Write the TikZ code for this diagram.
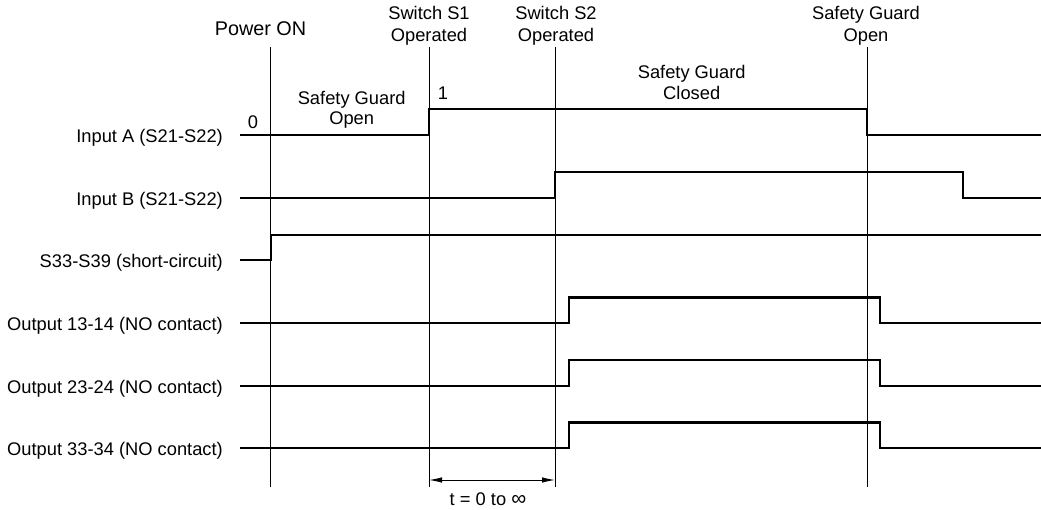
\documentclass[tikz,border=0pt]{standalone}
\usepackage{fontspec}
\setmainfont{Liberation Sans}
\usetikzlibrary{arrows.meta}
\begin{document}
\begin{tikzpicture}[x=1pt,y=-1pt,
  lbl/.style={inner sep=0pt,anchor=base,font=\fontsize{18.3}{21}\selectfont},
  rowlbl/.style={inner sep=0pt,anchor=base east,font=\fontsize{18.3}{21}\selectfont},
  sig/.style={line width=2.4pt,line join=miter},
  marker/.style={line width=1pt},
  dim/.style={line width=1pt,{Latex[length=13pt,width=5.5pt]}-{Latex[length=13pt,width=5.5pt]}}]
\useasboundingbox (0,0) rectangle (1041,510);
% header labels
\node[lbl,font=\fontsize{19.8}{22}\selectfont] (pon) at (260.5,35.3) {Power ON};
\node[lbl] (s1a) at (429,20) {Switch S1};
\node[lbl] (s1b) at (429,42) {Operated};
\node[lbl] (s2a) at (556,20) {Switch S2};
\node[lbl] (s2b) at (556,42) {Operated};
\node[lbl] (sgoa) at (866,20) {Safety Guard};
\node[lbl] (sgob) at (866,42) {Open};
\node[lbl] (sgca) at (691.7,79) {Safety Guard};
\node[lbl] (sgcb) at (691.7,99.5) {Closed};
\node[lbl] (sgla) at (351.7,104.3) {Safety Guard};
\node[lbl] (sglb) at (351.7,125) {Open};
\node[lbl] (zero) at (253,128.3) {0};
\node[lbl] (one) at (443,100) {1};
% row labels
\node[rowlbl] (ra) at (223,143) {Input A (S21-S22)};
\node[rowlbl] (rb) at (223,206) {Input B (S21-S22)};
\node[rowlbl] (rs) at (223,267.5) {S33-S39 (short-circuit)};
\node[rowlbl] (r1) at (223,330.5) {Output 13-14 (NO contact)};
\node[rowlbl] (r2) at (223,393.5) {Output 23-24 (NO contact)};
\node[rowlbl] (r3) at (223,455.5) {Output 33-34 (NO contact)};
% marker lines
\coordinate (m0t) at (270,47);   \coordinate (m0b) at (270,487);
\coordinate (m1t) at (429,47);   \coordinate (m1b) at (429,487);
\coordinate (m2t) at (555,47);   \coordinate (m2b) at (555,487);
\coordinate (m3t) at (867,47);   \coordinate (m3b) at (867,487);
\draw[marker] (m0t) -- (m0b);
\draw[marker] (m1t) -- (m1b);
\draw[marker] (m2t) -- (m2b);
\draw[marker] (m3t) -- (m3b);
% signals
\draw[sig] (240,135) -- (429,135) -- (429,109) -- (867,109) -- (867,135) -- (1041,135);
\draw[sig] (240,198) -- (555,198) -- (555,172) -- (963,172) -- (963,198) -- (1041,198);
\draw[sig] (240,260) -- (271,260) -- (271,235) -- (1041,235);
\draw[sig] (240,323) -- (569,323) -- (569,297.5) -- (880,297.5) -- (880,323) -- (1041,323);
\draw[sig] (240,386) -- (569,386) -- (569,360) -- (880,360) -- (880,386) -- (1041,386);
\draw[sig] (240,448) -- (569,448) -- (569,422.5) -- (880,422.5) -- (880,448) -- (1041,448);
% time span
\coordinate (ta) at (429,480);
\coordinate (tb) at (555,480);
\draw[dim] (ta) -- (tb);
\node[lbl] (tlab) at (488,505) {t = 0 to {\fontsize{21}{21}\selectfont ∞}};
\end{tikzpicture}
\end{document}
